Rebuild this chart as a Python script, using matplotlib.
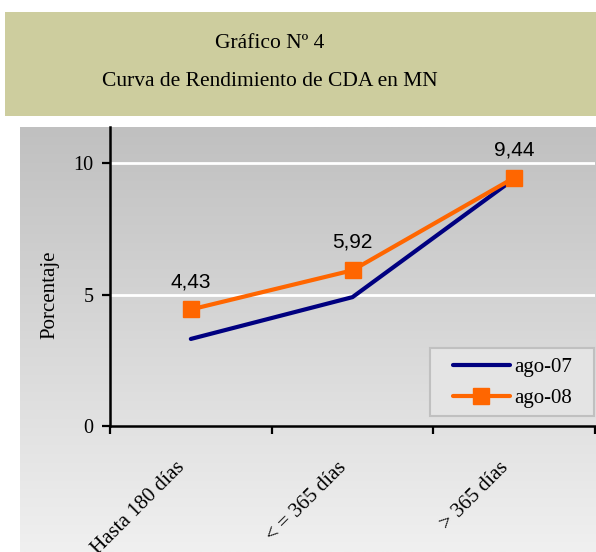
import numpy as np
import matplotlib
matplotlib.use('Agg')
import matplotlib.pyplot as plt
from matplotlib.patches import Rectangle

plt.rcParams['font.family'] = ['Liberation Serif', 'DejaVu Serif']

categorias = ['Hasta 180 días', '< = 365 días', '> 365 días']
ago07 = [3.31, 4.90, 9.40]
ago08 = [4.43, 5.92, 9.44]
etiquetas = ['4,43', '5,92', '9,44']
yticks = [0, 5, 10]

fig = plt.figure(figsize=(5.96, 5.52), dpi=100)

# caja del titulo
fig.patches.append(Rectangle((0.008, 0.790), 0.992, 0.188, transform=fig.transFigure,
                             facecolor='#cdcd9e', edgecolor='none', zorder=0))
fig.text(270 / 596, 1 - 43 / 552, 'Gráfico Nº 4', ha='center', va='center', fontsize=15.5)
fig.text(270 / 596, 1 - 82 / 552, 'Curva de Rendimiento de CDA en MN', ha='center', va='center',
         fontsize=15.5)

# fondo degradado
bg = fig.add_axes([20 / 596, 0, 1 - 20 / 596, 1 - 127 / 552], zorder=0)
grad = np.linspace(0, 1, 256).reshape(-1, 1)
bg.imshow(grad, aspect='auto', cmap=matplotlib.colors.LinearSegmentedColormap.from_list(
    'g', ['#c0c0c0', '#f0f0f0']), extent=[0, 1, 0, 1], origin='upper')
bg.axis('off')

ax = fig.add_axes([110 / 596, 1 - 426 / 552, 485 / 596, (426 - 127) / 552], zorder=1)
ax.patch.set_alpha(0)
x = np.arange(1, len(categorias) + 1)
ax.set_xlim(0.5, 3.5)
ax.set_ylim(0, (426 - 127) / 26.3)

for y in [5, 10]:
    ax.axhline(y, color='white', lw=2, zorder=1)

ax.plot(x, ago07, color='#000080', lw=3, solid_capstyle='round', label='ago-07', zorder=3)
ax.plot(x, ago08, color='#ff6600', lw=3, marker='s', markersize=11.5,
        solid_capstyle='round', label='ago-08', zorder=4)

for xi, yi, t in zip(x, ago08, etiquetas):
    ax.text(xi, yi + 0.7, t, ha='center', va='bottom', fontsize=15,
            family=['Liberation Sans', 'DejaVu Sans'], clip_on=False)

ax.set_yticks(yticks)
ax.set_yticklabels([str(v) for v in yticks], fontsize=14.5)
ax.set_xticks([0.5, 1.5, 2.5, 3.5])
ax.set_xticklabels([])
ax.tick_params(axis='both', direction='out', length=6, width=1.6, colors='black', pad=6)

for xi, c in zip(x, categorias):
    ax.annotate(c, xy=(xi, 0), xycoords=('data', 'axes fraction'), xytext=(-11, -23),
                textcoords='offset points', rotation=45, ha='right', va='top',
                rotation_mode='anchor', fontsize=15)

ax.spines['top'].set_visible(False)
ax.spines['right'].set_visible(False)
ax.spines['left'].set_linewidth(1.8)
ax.spines['bottom'].set_linewidth(1.8)

fig.text(50 / 596, 1 - 295 / 552, 'Porcentaje', rotation=90, ha='center', va='center', fontsize=15)

# cuadro de la leyenda
ax.add_patch(Rectangle((0.660, 0.0334), 0.338, 0.228, transform=ax.transAxes,
                       facecolor='#e4e4e4', edgecolor='#c0c0c0', lw=1.5, zorder=5,
                       clip_on=False))
leg = ax.legend(loc='upper left', bbox_to_anchor=(0.707, 0.229), fontsize=15, frameon=False,
                handlelength=2.74, handletextpad=0.2, borderpad=0, labelspacing=0.55,
                borderaxespad=0)
leg.set_zorder(6)

fig.savefig('out.png', dpi=100)
